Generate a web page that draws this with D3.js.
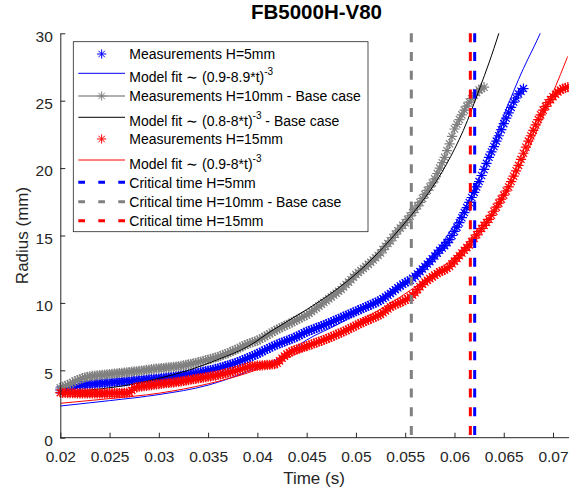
<!DOCTYPE html>
<html>
<head>
<meta charset="utf-8">
<script src="https://cdn.jsdelivr.net/npm/d3@7"></script>
<style>
  html, body { margin: 0; padding: 0; background: #fff; }
  svg { display: block; font-family: "Liberation Sans", Arial, Helvetica, sans-serif; }
</style>
</head>
<body>
<svg id="chart" width="569" height="497"></svg>
<script>
// ---------------- DATA ----------------
const chartTitle = "FB5000H-V80";
const xLabel = "Time (s)";
const yLabel = "Radius (mm)";
const xTickValues = [0.02, 0.025, 0.03, 0.035, 0.04, 0.045, 0.05, 0.055, 0.06, 0.065, 0.07];
const xTickLabels = ["0.02", "0.025", "0.03", "0.035", "0.04", "0.045", "0.05", "0.055", "0.06", "0.065", "0.07"];
const yTickValues = [0, 5, 10, 15, 20, 25, 30];
const yTickLabels = ["0", "5", "10", "15", "20", "25", "30"];

// frame times of the measurements (ms)
const frameTimesMs = [
  20,20.25,20.5,20.75,21,21.25,21.5,21.75,22,22.25,22.5,22.75,23,23.25,23.5,23.75,24,24.25,24.5,24.75,
  25,25.25,25.5,25.75,26,26.25,26.5,26.75,27,27.25,27.5,27.75,28,28.25,28.5,28.75,29,29.25,29.5,29.75,
  30,30.25,30.5,30.75,31,31.25,31.5,31.75,32,32.25,32.5,32.75,33,33.25,33.5,33.75,34,34.25,34.5,34.75,
  35,35.25,35.5,35.75,36,36.25,36.5,36.75,37,37.25,37.5,37.75,38,38.25,38.5,38.75,39,39.25,39.5,39.75,
  40,40.25,40.5,40.75,41,41.25,41.5,41.75,42,42.25,42.5,42.75,43,43.25,43.5,43.75,44,44.25,44.5,44.75,
  45,45.25,45.5,45.75,46,46.25,46.5,46.75,47,47.25,47.5,47.75,48,48.25,48.5,48.75,49,49.25,49.5,49.75,
  50,50.25,50.5,50.75,51,51.25,51.5,51.75,52,52.25,52.5,52.75,53,53.25,53.5,53.75,54,54.25,54.5,54.75,
  55,55.25,55.5,55.75,56,56.25,56.5,56.75,57,57.25,57.5,57.75,58,58.25,58.5,58.75,59,59.25,59.5,59.75,
  60,60.25,60.5,60.75,61,61.25,61.5,61.75,62,62.25,62.5,62.75,63,63.25,63.5,63.75,64,64.25,64.5,64.75,
  65,65.25,65.5,65.75,66,66.25,66.5,66.75,67,67.25,67.5,67.75,68,68.25,68.5,68.75,69,69.25,69.5,69.75,
  70,70.25,70.5,70.75,71,71.25,71.5];

// Measurements H=5mm (mm)
const radiusH5 = [
  3.54,3.57,3.60,3.63,3.66,3.72,3.78,3.84,3.90,3.92,3.94,3.96,3.97,3.99,4.00,4.02,4.03,4.05,4.06,4.08,
  4.09,4.11,4.12,4.14,4.15,4.17,4.18,4.20,4.21,4.23,4.25,4.27,4.28,4.30,4.31,4.33,4.34,4.36,4.37,4.39,
  4.40,4.42,4.44,4.47,4.49,4.51,4.53,4.56,4.58,4.61,4.64,4.67,4.70,4.73,4.76,4.79,4.82,4.86,4.90,4.94,
  4.98,5.02,5.06,5.10,5.15,5.20,5.26,5.31,5.37,5.42,5.48,5.54,5.60,5.68,5.75,5.83,5.90,5.98,6.06,6.14,
  6.22,6.31,6.40,6.49,6.58,6.67,6.76,6.84,6.92,6.99,7.06,7.13,7.20,7.27,7.34,7.42,7.50,7.59,7.68,7.78,
  7.87,7.93,8.00,8.07,8.14,8.21,8.28,8.35,8.43,8.50,8.58,8.66,8.74,8.82,8.90,8.98,9.06,9.14,9.22,9.30,
  9.38,9.46,9.54,9.62,9.70,9.78,9.86,9.94,10.02,10.11,10.20,10.32,10.44,10.57,10.70,10.84,10.98,11.12,11.26,11.38,
  11.50,11.59,11.68,11.83,11.98,12.15,12.32,12.51,12.70,12.88,13.06,13.27,13.48,13.69,13.90,14.07,14.25,14.47,14.70,15.00,
  15.30,15.62,15.95,16.32,16.70,17.07,17.45,17.82,18.20,18.60,19.00,19.45,19.90,20.35,20.80,21.20,21.60,22.00,22.40,22.85,
  23.30,23.70,24.10,24.50,24.90,25.20,25.50,25.70,25.90];

// Measurements H=10mm - Base case (mm)
const radiusH10 = [
  3.70,3.78,3.85,3.92,4.00,4.10,4.20,4.28,4.35,4.42,4.48,4.52,4.55,4.58,4.60,4.63,4.65,4.66,4.68,4.70,
  4.72,4.74,4.76,4.78,4.80,4.81,4.83,4.85,4.87,4.90,4.92,4.93,4.95,4.98,5.00,5.03,5.05,5.08,5.10,5.13,
  5.15,5.16,5.18,5.20,5.22,5.24,5.26,5.28,5.30,5.33,5.36,5.40,5.44,5.48,5.52,5.56,5.60,5.65,5.70,5.75,
  5.80,5.85,5.90,5.95,6.00,6.07,6.14,6.21,6.28,6.36,6.44,6.52,6.60,6.69,6.78,6.87,6.95,7.02,7.08,7.14,
  7.20,7.30,7.40,7.50,7.60,7.71,7.82,7.92,8.02,8.11,8.20,8.29,8.38,8.46,8.55,8.64,8.74,8.83,8.92,9.01,
  9.10,9.23,9.36,9.49,9.62,9.76,9.90,10.03,10.16,10.30,10.44,10.58,10.72,10.86,11.00,11.18,11.36,11.54,11.72,11.91,
  12.10,12.25,12.40,12.55,12.70,12.86,13.02,13.18,13.35,13.52,13.70,13.95,14.20,14.40,14.60,14.85,15.10,15.35,15.55,15.75,
  15.95,16.20,16.45,16.70,16.95,17.20,17.45,17.75,18.05,18.35,18.60,18.90,19.20,19.60,20.00,20.40,20.80,21.30,21.80,22.35,
  22.90,23.25,23.60,23.95,24.30,24.60,24.90,25.15,25.40,25.60,25.80,25.90,26.00];

// Measurements H=15mm (mm)
const radiusH15 = [
  3.34,3.33,3.32,3.31,3.30,3.30,3.30,3.29,3.29,3.29,3.29,3.29,3.29,3.29,3.29,3.29,3.29,3.29,3.29,3.30,
  3.30,3.30,3.30,3.30,3.31,3.32,3.33,3.34,3.36,3.50,3.70,3.74,3.78,3.80,3.83,3.85,3.88,3.90,3.93,3.95,
  3.98,4.00,4.02,4.04,4.06,4.08,4.10,4.12,4.15,4.18,4.21,4.24,4.27,4.30,4.34,4.37,4.40,4.43,4.46,4.49,
  4.52,4.55,4.58,4.61,4.65,4.69,4.73,4.77,4.82,4.86,4.91,4.95,5.00,5.06,5.12,5.18,5.24,5.27,5.30,5.32,
  5.34,5.35,5.37,5.38,5.40,5.41,5.43,5.46,5.52,5.70,5.90,6.05,6.20,6.31,6.42,6.48,6.55,6.61,6.68,6.74,
  6.80,6.86,6.93,6.99,7.06,7.12,7.19,7.26,7.33,7.40,7.48,7.56,7.64,7.72,7.80,7.88,7.96,8.05,8.14,8.23,
  8.32,8.41,8.50,8.58,8.66,8.74,8.82,8.90,8.98,9.06,9.14,9.27,9.40,9.55,9.70,9.79,9.88,9.96,10.04,10.12,
  10.20,10.31,10.42,10.58,10.75,10.98,11.20,11.38,11.55,11.68,11.80,11.93,12.06,12.18,12.30,12.38,12.45,12.57,12.70,12.90,
  13.10,13.30,13.50,13.70,13.90,14.10,14.30,14.55,14.80,15.05,15.30,15.52,15.75,15.97,16.20,16.50,16.80,17.10,17.40,17.70,
  18.00,18.30,18.60,19.00,19.40,19.80,20.20,20.65,21.10,21.55,22.00,22.40,22.80,23.20,23.60,23.95,24.30,24.58,24.85,25.08,
  25.30,25.48,25.65,25.78,25.90,25.95,26.00];

// Model fits (ms, mm)
const fitH5TimesMs  = [20,25,30,35,38.7,40,42.5,45,48.4,52,55.6,57.5,58.9,60,61,62,63,64,65,66,67,68,68.7,69.5];
const fitH5Radius   = [2.35,2.75,3.2,3.9,4.82,5.2,6.0,7.25,8.5,10.1,11.8,13.3,14.6,15.8,17.0,18.4,20.1,22.0,23.9,25.7,27.4,28.9,30.0,31.5];
const fitH10TimesMs = [20,22.5,26,30,33,36,39,41.6,45,48.4,51,53.5,55.5,57.5,59.2,60.9,62.6,63.5,64.5,65.5];
const fitH10Radius  = [3.3,3.5,3.8,4.4,5.0,5.8,6.75,8.0,9.5,11.2,12.8,14.7,16.4,18.3,20.3,22.8,26.0,27.8,30.0,32.5];
const fitH15TimesMs = [20,25,30,35,39,42,45,48,51,54,57,60,62,64,66,68,70,71.5];
const fitH15Radius  = [2.55,2.9,3.3,4.0,4.8,5.6,6.6,7.7,8.9,10.2,11.7,13.4,14.8,16.6,19.2,22.2,25.6,28.3];

// Critical times (s): H=5mm, H=10mm base case, H=15mm
const criticalTimes = [0.06205, 0.05562, 0.06161];

const legendLabels = [
  "Measurements H=5mm",
  "Model fit \u223C (0.9-8.9*t)^{-3}",
  "Measurements H=10mm - Base case",
  "Model fit \u223C (0.8-8*t)^{-3} - Base case",
  "Measurements H=15mm",
  "Model fit \u223C (0.9-8*t)^{-3}",
  "Critical time H=5mm",
  "Critical time H=10mm - Base case",
  "Critical time H=15mm"
];

// ---------------- STYLE / LAYOUT ----------------
const BLUE = "#0000ff", RED = "#ff0000", GRAY = "#808080", LIGHTGRAY = "#b0b0b0", BLACK = "#000000";
const TXT = "#262626";

const svg = d3.select("#chart");
const plot = { left: 60.3, right: 567.8, top: 33.3, bottom: 437.7 };

const x = d3.scaleLinear().domain([0.02, 0.0715]).range([plot.left, plot.right]);
const y = d3.scaleLinear().domain([0, 30]).range([plot.bottom, plot.top]);

svg.append("defs").append("clipPath").attr("id", "clip")
  .append("rect").attr("x", plot.left).attr("y", plot.top)
  .attr("width", plot.right - plot.left).attr("height", plot.bottom - plot.top);

function asterisk(s) {
  const d = s * 0.7071;
  return `M${-s},0H${s}M0,${-s}V${s}M${-d},${-d}L${d},${d}M${-d},${d}L${d},${-d}`;
}
const MARK = asterisk(5.1);
const LEGEND_MARK = asterisk(4.6);

function pairs(timesMs, values) {
  return values.map((v, i) => [timesMs[i] / 1000, v]);
}

const lineGen = d3.line().x(d => x(d[0])).y(d => y(d[1])).curve(d3.curveMonotoneX);

function drawMarkers(data, color) {
  svg.append("g").selectAll("path").data(data).join("path")
    .attr("d", MARK)
    .attr("transform", d => `translate(${x(d[0])},${y(d[1])})`)
    .attr("fill", "none").attr("stroke", color).attr("stroke-width", 1.2);
}
function drawFit(data, color) {
  svg.append("path").datum(data).attr("d", lineGen)
    .attr("clip-path", "url(#clip)")
    .attr("fill", "none").attr("stroke", color).attr("stroke-width", 1);
}

// Series in plotting order
drawMarkers(pairs(frameTimesMs, radiusH5), BLUE);
drawFit(pairs(fitH5TimesMs, fitH5Radius), BLUE);

const gray = pairs(frameTimesMs, radiusH10);
svg.append("path").datum(gray).attr("d", d3.line().x(d => x(d[0])).y(d => y(d[1])))
  .attr("fill", "none").attr("stroke", LIGHTGRAY).attr("stroke-width", 1.5);
drawMarkers(gray, GRAY);
drawFit(pairs(fitH10TimesMs, fitH10Radius), BLACK);

drawMarkers(pairs(frameTimesMs, radiusH15), RED);
drawFit(pairs(fitH15TimesMs, fitH15Radius), RED);

const critColors = [BLUE, GRAY, RED];
svg.append("g").selectAll("line").data(criticalTimes).join("line")
  .attr("x1", d => x(d)).attr("x2", d => x(d))
  .attr("y1", y(30)).attr("y2", y(0))
  .attr("stroke", (d, i) => critColors[i]).attr("stroke-width", 3)
  .attr("stroke-dasharray", "9,9.7");

// ---------------- AXES ----------------
const xAxis = d3.axisBottom(x).tickValues(xTickValues)
  .tickFormat((d, i) => xTickLabels[i]).tickSizeInner(-5).tickSizeOuter(0).tickPadding(13);
const gx = svg.append("g").attr("transform", `translate(0,${plot.bottom})`).call(xAxis);
gx.select(".domain").attr("d", `M${plot.left},0H${plot.right + 2}`);

const yAxis = d3.axisLeft(y).tickValues(yTickValues)
  .tickFormat((d, i) => yTickLabels[i]).tickSizeInner(-5).tickSizeOuter(0).tickPadding(7.5);
const gy = svg.append("g").attr("transform", `translate(${plot.left},0)`).call(yAxis);

[gx, gy].forEach(g => {
  g.select(".domain").attr("stroke", TXT).attr("stroke-width", 1);
  g.selectAll(".tick line").attr("stroke", TXT).attr("stroke-width", 1);
  g.selectAll(".tick text").attr("fill", TXT).style("font-size", "15.5px")
    .style("font-family", '"Liberation Sans", Arial, sans-serif');
});
gy.selectAll(".tick text").attr("dy", "0.5em");

// Labels
svg.append("text").attr("x", 314).attr("y", 484).attr("text-anchor", "middle")
  .attr("fill", TXT).style("font-size", "17px").text(xLabel);
svg.append("text").attr("transform", `translate(28,${(plot.top + plot.bottom) / 2}) rotate(-90)`)
  .attr("text-anchor", "middle").attr("fill", TXT).style("font-size", "17px").text(yLabel);
svg.append("text").attr("x", 316.5).attr("y", 19.3).attr("text-anchor", "middle")
  .attr("fill", "#000").style("font-size", "20.5px").style("font-weight", "bold").text(chartTitle);

// ---------------- LEGEND ----------------
const leg = svg.append("g");
leg.append("rect").attr("x", 73.3).attr("y", 41.7).attr("width", 294.7).attr("height", 190)
  .attr("fill", "#fff").attr("stroke", "#262626").attr("stroke-width", 0.8);

const rowY = [54, 73.3, 96, 117.3, 139, 160, 182.3, 201.7, 220.7];
const rowKind = ["m", "l", "lm", "l", "m", "l", "d", "d", "d"];
const rowColor = [BLUE, BLUE, GRAY, BLACK, RED, RED, BLUE, GRAY, RED];
const lx0 = 78.3, lx1 = 125, textX = 129.3;

legendLabels.forEach((label, i) => {
  const yy = rowY[i], kind = rowKind[i], col = rowColor[i];
  if (kind === "l") {
    leg.append("line").attr("x1", lx0).attr("x2", lx1).attr("y1", yy).attr("y2", yy)
      .attr("stroke", col).attr("stroke-width", 1);
  } else if (kind === "lm") {
    leg.append("line").attr("x1", lx0).attr("x2", lx1).attr("y1", yy).attr("y2", yy)
      .attr("stroke", LIGHTGRAY).attr("stroke-width", 2);
  } else if (kind === "d") {
    leg.append("line").attr("x1", lx0).attr("x2", lx1).attr("y1", yy).attr("y2", yy)
      .attr("stroke", col).attr("stroke-width", 3).attr("stroke-dasharray", "6.7,13.3");
  }
  if (kind === "m" || kind === "lm") {
    leg.append("path").attr("d", LEGEND_MARK).attr("transform", `translate(${(lx0 + lx1) / 2},${yy})`)
      .attr("fill", "none").attr("stroke", col).attr("stroke-width", 1);
  }
  const hasSup = /\^\{/.test(label);
  const t = leg.append("text").attr("x", textX).attr("y", yy + (hasSup ? 8.7 : 5.3))
    .attr("fill", "#000").style("font-size", "14px");
  const parts = label.split(/\^\{([^}]*)\}/);
  parts.forEach((p, k) => {
    if (p === "") return;
    if (k % 2 === 1) {
      t.append("tspan").attr("dy", -7).style("font-size", "10px").text(p);
    } else {
      const ts = t.append("tspan").text(p);
      if (k > 0) ts.attr("dy", 7);
    }
  });
});
</script>
</body>
</html>
